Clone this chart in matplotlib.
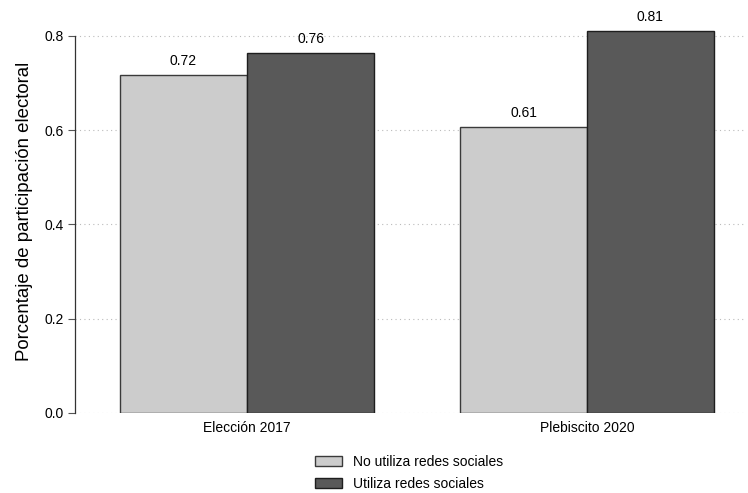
import numpy as np
import matplotlib.pyplot as plt

plt.rcParams['font.family'] = ['Liberation Sans', 'DejaVu Sans']

# datos
grupos = ['Elección 2017', 'Plebiscito 2020']
no_utiliza = [0.717, 0.607]
utiliza = [0.764, 0.810]
series = ['No utiliza redes sociales', 'Utiliza redes sociales']
yticks = [0.0, 0.2, 0.4, 0.6, 0.8]

fig = plt.figure(figsize=(7.48, 4.93), dpi=100)
ax = fig.add_axes([0.1003, 0.1623, 0.8957, 0.8177])

x = np.arange(len(grupos))
w = 0.3735
b1 = ax.bar(x - w/2, no_utiliza, w, color='#cccccc', edgecolor='#3a3a3a', linewidth=1.0,
            label=series[0], zorder=3)
b2 = ax.bar(x + w/2, utiliza, w, color='#595959', edgecolor='#1e1e1e', linewidth=1.0,
            label=series[1], zorder=3)

for bars in (b1, b2):
    ax.bar_label(bars, fmt='%.2f', padding=5, fontsize=10)

ax.set_xlim(-0.506, 1.465)
ax.set_ylim(0, 0.855)
ax.set_yticks(yticks)
ax.set_yticklabels(['%.1f' % t for t in yticks], fontsize=10)
ax.set_xticks(x)
ax.set_xticklabels(grupos, fontsize=10)
ax.tick_params(axis='x', length=0, pad=6)
ax.tick_params(axis='y', length=5, width=0.8, color='#555555', pad=3)
ax.grid(axis='y', linestyle=(0, (1, 3)), color='#bbbbbb', linewidth=0.8, zorder=0)

for s in ['top', 'right', 'bottom']:
    ax.spines[s].set_visible(False)
ax.spines['left'].set_color('#333333')
ax.spines['left'].set_linewidth(0.9)
ax.spines['left'].set_bounds(0, 0.8)

ax.set_ylabel('Porcentaje de participación electoral', fontsize=13.4, labelpad=8)

fig.legend(handles=[b1, b2], loc='center', bbox_to_anchor=(0.547, 0.041), frameon=False,
           fontsize=10, handlelength=1.9, handleheight=0.75, labelspacing=0.6,
           handletextpad=0.8)

fig.savefig('out.png', dpi=100)
